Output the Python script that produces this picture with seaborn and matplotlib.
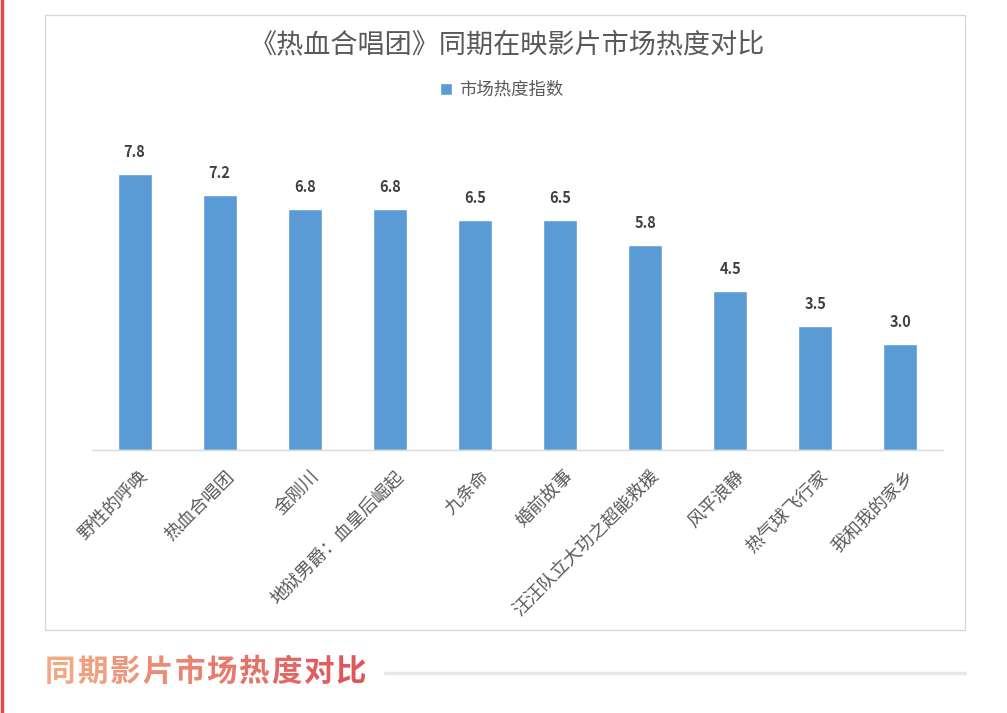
import matplotlib
matplotlib.use("Agg")
import matplotlib.pyplot as plt
import matplotlib.transforms as mtransforms
import seaborn as sns
import numpy as np
from matplotlib.patches import Rectangle
from matplotlib.lines import Line2D

films = ["野性的呼唤", "热血合唱团", "金刚川", "地狱男爵：血皇后崛起", "九条命",
         "婚前故事", "汪汪队立大功之超能救援", "风平浪静", "热气球飞行家", "我和我的家乡"]
heat = [7.8, 7.2, 6.8, 6.8, 6.5, 6.5, 5.8, 4.5, 3.5, 3.0]
series_name = "市场热度指数"
chart_title = "《热血合唱团》同期在映影片市场热度对比"
section_title = "同期影片市场热度对比"

sns.set_theme(style="white")
plt.rcParams["font.family"] = ["Noto Sans CJK SC", "DejaVu Sans"]

W, H = 1007, 713
fig = plt.figure(figsize=(W / 100, H / 100), dpi=100)
fig.patch.set_facecolor("white")

def fx(px):
    return px / W

def fy(py):
    return 1 - py / H

# plot area: baseline at y=450, 9 units tall
ax = fig.add_axes([fx(92), fy(450), fx(851), (9 * 35.4) / H])
sns.barplot(x=films, y=heat, color="#5b9bd5", width=0.4, ax=ax,
            label=series_name, saturation=1)
ax.set_ylim(0, 9)
ax.set_xlim(-0.5, len(films) - 0.5)
ax.set_xlabel("")
ax.set_ylabel("")
ax.set_yticks([])
for s in ["top", "left", "right"]:
    ax.spines[s].set_visible(False)
ax.spines["bottom"].set_color("#d9d9d9")
ax.spines["bottom"].set_linewidth(1)
ax.tick_params(axis="x", length=0, pad=17, labelsize=13, labelcolor="#595959")
shift = mtransforms.ScaledTranslation(8 / 72, 0, fig.dpi_scale_trans)
for lab in ax.get_xticklabels():
    lab.set_rotation(45)
    lab.set_ha("right")
    lab.set_va("center")
    lab.set_rotation_mode("anchor")
    lab.set_fontweight("light")
    lab.set_transform(lab.get_transform() + shift)
ax.set_facecolor("none")

ax.bar_label(ax.containers[0], fmt="%.1f", padding=10, fontsize=10.5,
             fontweight="bold", color="#404040")

if ax.get_legend() is not None:
    ax.get_legend().remove()
handles, labels = ax.get_legend_handles_labels()
leg = fig.legend(handles, labels, loc="center", bbox_to_anchor=(fx(502), fy(90)),
                 frameon=False, fontsize=12.5, handlelength=0.7, handleheight=0.7,
                 handletextpad=0.4, labelcolor="#595959")
for t in leg.get_texts():
    t.set_fontweight("light")

fig.text(fx(507), fy(45), chart_title, ha="center", va="center",
         fontsize=19.5, color="#595959", fontweight="light")

# chart frame and left accent line
fig.add_artist(Rectangle((fx(45), fy(630)), fx(920), (630 - 15) / H,
                         transform=fig.transFigure, fill=False,
                         edgecolor="#d9d9d9", linewidth=1))
fig.add_artist(Line2D([fx(1.5), fx(1.5)], [0, 1], transform=fig.transFigure,
                      color="#e8474a", linewidth=2.5))

# section heading with a left-to-right colour fade
c0 = np.array([0xf3, 0xa8, 0x84]) / 255
c1 = np.array([0xde, 0x55, 0x5a]) / 255
n = len(section_title)
for i, ch in enumerate(section_title):
    t = i / (n - 1)
    fig.text(fx(45 + i * 32.3), fy(672), ch, ha="left", va="center",
             fontsize=22, fontweight="bold", color=c0 * (1 - t) + c1 * t)
fig.add_artist(Line2D([fx(385), fx(965)], [fy(673), fy(673)],
                      transform=fig.transFigure, color="#e8e8e8", linewidth=2.5))

fig.savefig("out.png", dpi=100)
